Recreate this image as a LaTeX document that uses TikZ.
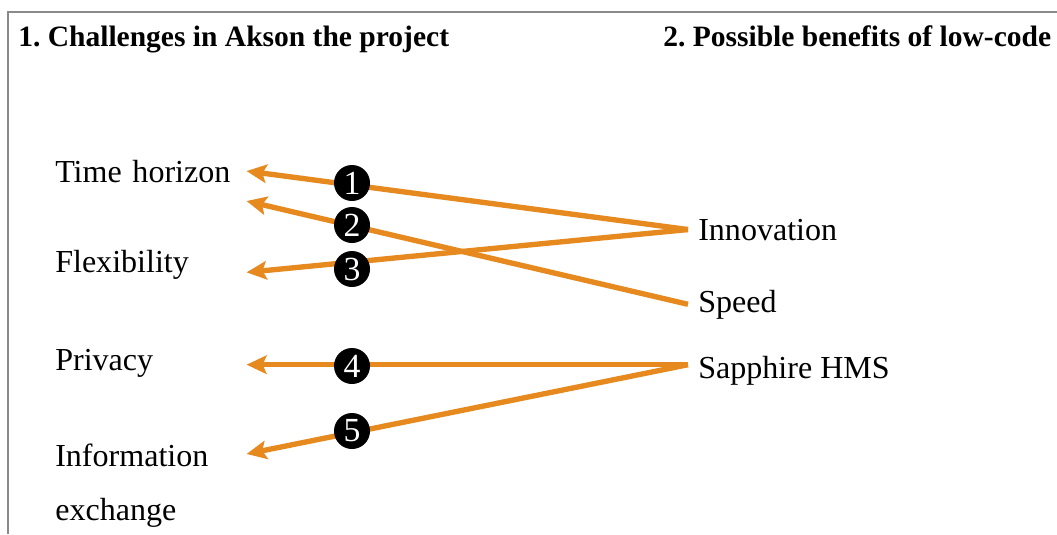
\documentclass[tikz,border=0pt]{standalone}
\usepackage{fontspec}
\setmainfont{Liberation Serif}
\usetikzlibrary{arrows.meta,positioning}
\definecolor{linkorange}{HTML}{E6891F}
\definecolor{framegray}{HTML}{8A8A8A}
\frenchspacing

\begin{document}
\begin{tikzpicture}[line cap=butt,
  head/.style={anchor=base west,inner sep=0pt,font=\bfseries\fontsize{21}{25}\selectfont},
  item/.style={anchor=base west,inner sep=0pt,align=left,text width=4.775cm,
    font=\fontsize{22.8}{39}\selectfont},
  gain/.style={anchor=base west,inner xsep=2.5mm,inner ysep=0pt,
    font=\fontsize{22.8}{27}\selectfont},
  num/.style={circle,fill=black,text=white,minimum size=9mm,inner sep=0pt,
    font=\fontsize{24}{24}\selectfont},
  link/.style={-{Stealth[length=5mm,width=4.6mm,inset=1mm]},line width=3.8pt,linkorange}]
\path[use as bounding box] (0,0) rectangle (26.425,13.35);
\fill[white] (0,0) rectangle (26.425,13.35);
\draw[framegray,line width=1.2pt] (0.2,0) -- (0.2,13.05) -- (26.425,13.05);
\node[head] (h1) at (0.45,12.18) {1. Challenges in Akson the project};
\node[head] (h2) at (16.575,12.18) {2. Possible benefits of low-code};
% challenges
\node[item] (time) at (1.375,8.8) {Time horizon};
\node[item] (flex) at (1.375,6.55) {Flexibility};
\node[item] (priv) at (1.375,4.1) {Privacy};
\node[item] (info) at (1.375,1.7) {Information\\exchange};
% benefits
\node[gain] (innov) at (17.2,7.35) {Innovation};
\node[gain] (speed) at (17.2,5.55) {Speed};
\node[gain] (hms) at (17.2,3.9) {Sapphire HMS};
\coordinate (hmsW) at ([yshift=1.4mm]hms.west);
\draw[link] (innov.west) -- (time.east);
\draw[link] (speed.west) -- ([yshift=-7.5mm]time.east);
\draw[link] (innov.west) -- ([yshift=-2mm]flex.east);
\draw[link] (hmsW) -- (hmsW -| priv.east);
\draw[link] (hmsW) -- ([yshift=-2.7mm]info.north east);
% numbered markers
\node[num] (n1) at (8.8,8.775) {1};
\node[num] (n2) at (8.8,7.725) {2};
\node[num] (n3) at (8.8,6.625) {3};
\node[num] (n4) at (8.8,4.2) {4};
\node[num] (n5) at (8.8,2.575) {5};
\end{tikzpicture}
\end{document}
